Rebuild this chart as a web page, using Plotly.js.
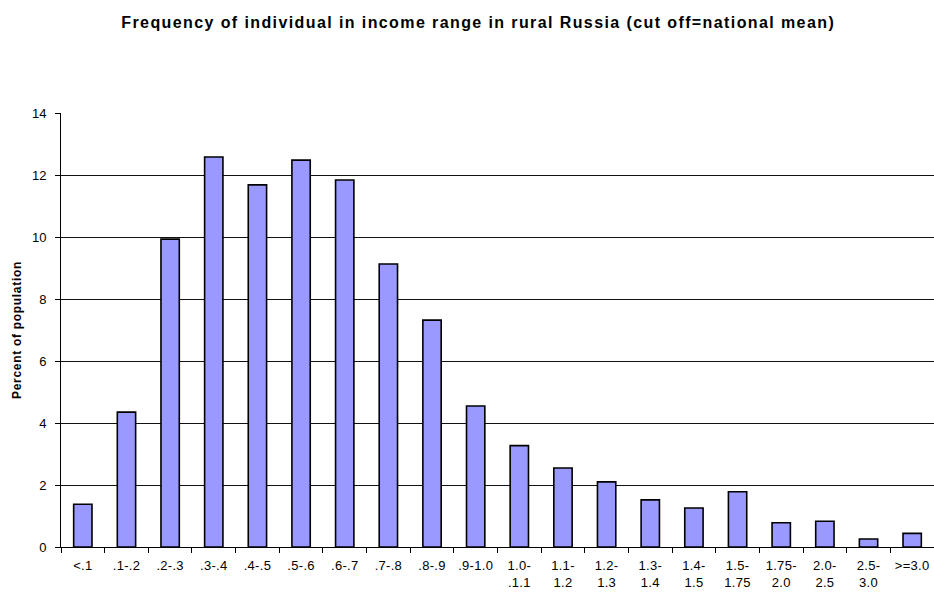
<!DOCTYPE html>
<html>
<head>
<meta charset="utf-8">
<script src="https://cdn.plot.ly/plotly-3.0.1.min.js"></script>
<style>
html,body{margin:0;padding:0;background:#fff;}
#chart{width:934px;height:594px;}
.gtitle{letter-spacing:1.4px;}
.annotation-text{letter-spacing:0.7px;}
.xtick text{letter-spacing:0.3px;}
</style>
</head>
<body>
<div id="chart"></div>
<script>
const categories = ["<.1", ".1-.2", ".2-.3", ".3-.4", ".4-.5", ".5-.6", ".6-.7", ".7-.8", ".8-.9", ".9-1.0",
  "1.0-<br>.1.1", "1.1-<br>1.2", "1.2-<br>1.3", "1.3-<br>1.4", "1.4-<br>1.5", "1.5-<br>1.75", "1.75-<br>2.0", "2.0-<br>2.5", "2.5-<br>3.0", ">=3.0"];
const percentValues = [1.38, 4.35, 9.93, 12.58, 11.68, 12.48, 11.84, 9.13, 7.32, 4.55,
  3.27, 2.55, 2.1, 1.52, 1.26, 1.78, 0.78, 0.83, 0.26, 0.44];
const yTicks = [0, 2, 4, 6, 8, 10, 12, 14];

const trace = {
  type: 'bar',
  x: categories,
  y: percentValues,
  marker: {color: '#9999FF', line: {color: '#000000', width: 1.6}},
  hoverinfo: 'x+y'
};

const FONT = 'Liberation Sans, Arial, sans-serif';

const layout = {
  width: 934, height: 594,
  margin: {l: 61, r: 0, t: 113, b: 47},
  paper_bgcolor: '#ffffff', plot_bgcolor: '#ffffff',
  bargap: 0.58,
  showlegend: false,
  font: {family: FONT, color: '#000000', size: 12},
  title: {text: '<b>Frequency of individual in income range in rural Russia (cut off=national mean)</b>',
    font: {size: 16, family: FONT, color: '#000'},
    x: 0.512, xanchor: 'center', y: 0.963, yanchor: 'middle'},
  xaxis: {
    type: 'category', tickson: 'boundaries', ticks: 'outside', ticklen: 5, tickcolor: '#000',
    showline: true, linecolor: '#000', linewidth: 1, showgrid: false,
    tickfont: {size: 13}, ticklabelstandoff: 6, automargin: false, fixedrange: true
  },
  yaxis: {
    range: [0, 14], tickvals: yTicks, ticks: 'outside', ticklen: 5, tickcolor: '#000',
    showline: true, linecolor: '#000', linewidth: 1,
    showgrid: true, gridcolor: '#111', gridwidth: 1, zeroline: false,
    tickfont: {size: 13}, ticklabelstandoff: 6,
    automargin: false, fixedrange: true
  },
  annotations: [{
    text: '<b>Percent of population</b>', xref: 'paper', yref: 'paper',
    x: 0, y: 0.5, xshift: -44, textangle: -90, showarrow: false,
    xanchor: 'center', yanchor: 'middle', font: {size: 12, family: FONT, color: '#000'}
  }]
};

Plotly.newPlot('chart', [trace], layout, {displayModeBar: false, staticPlot: true});
</script>
</body>
</html>
